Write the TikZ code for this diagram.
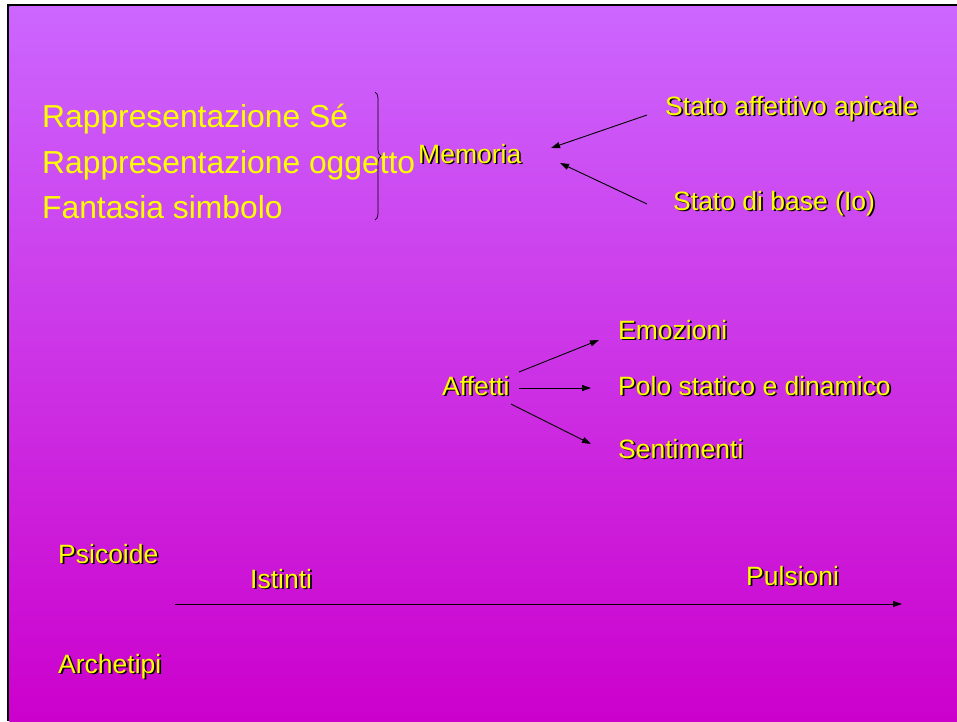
\documentclass[tikz,border=0pt]{standalone}
\usepackage{fontspec}
\setmainfont{Liberation Sans}
\usetikzlibrary{calc,arrows.meta,decorations.pathreplacing}
\definecolor{topc}{RGB}{204,102,255}
\definecolor{botc}{RGB}{204,0,204}
\definecolor{ylw}{RGB}{255,255,0}
\tikzset{
  big/.style={font=\fontsize{31.8}{38}\selectfont, text=ylw, inner sep=0pt, anchor=base west},
  lbl/.style={font=\fontsize{26.5}{32}\selectfont, text=ylw, inner sep=0pt, anchor=base west},
  shd/.style={font=\fontsize{26.5}{32}\selectfont, text=black, inner sep=0pt, anchor=base west},
  arr/.style={-{Triangle[length=9pt,width=6pt]}, line width=0.9pt, black},
  bracestyle/.style={decorate, decoration={brace, amplitude=6pt}, line width=0.7pt, black},
}
\newcommand{\stxt}[3]{\node[shd] at ($(#2)+(1.6,1.6)$) {#3}; \node[lbl] (#1) at (#2) {#3};}
\begin{document}
\begin{tikzpicture}[x=1pt,y=-1pt]
\useasboundingbox (0,0) rectangle (957,721);
\fill[white] (0,0) rectangle (957,721);
\fill[black] (7,4) rectangle (957,721);
\shade[top color=topc, bottom color=botc] (9.3,6.7) rectangle (957,721);
% left list
\node[big] (r1) at (42,127) {Rappresentazione Sé};
\node[big] (r2) at (42,173) {Rappresentazione oggetto};
\node[big] (r3) at (42,218) {Fantasia simbolo};
\draw[bracestyle] (375,92) -- (375,220);
% labels with shadow
\stxt{mem}{418,163}{Memoria}
\stxt{sap}{665,115}{Stato affettivo apicale}
\stxt{sdb}{673,210}{Stato di base (Io)}
\stxt{aff}{442,395}{Affetti}
\stxt{emo}{618,339}{Emozioni}
\stxt{pol}{618,395}{Polo statico e dinamico}
\stxt{sen}{618,458}{Sentimenti}
\stxt{psi}{58,563}{Psicoide}
\stxt{ist}{250,588}{Istinti}
\stxt{pul}{746,585}{Pulsioni}
\stxt{arc}{58,673}{Archetipi}
% arrows
\draw[arr] ($(sap.base west)+(-18,0)$) -- ($(mem.base west)+(133,-15)$);
\draw[arr] ($(sdb.base west)+(-26,-6)$) -- ($(mem.base west)+(142,0)$);
\draw[arr] ($(aff.base west)+(77,-23)$) -- ($(emo.base west)+(-19,1)$);
\draw[arr] ($(aff.base west)+(77,-7)$) -- ($(pol.base west)+(-27,-7)$);
\draw[arr] ($(aff.base west)+(69,9)$) -- ($(sen.base west)+(-27,-14)$);
\draw[arr] ($(ist.base west)+(-75,16)$) -- ($(pul.base west)+(156,19)$);
\end{tikzpicture}
\end{document}
